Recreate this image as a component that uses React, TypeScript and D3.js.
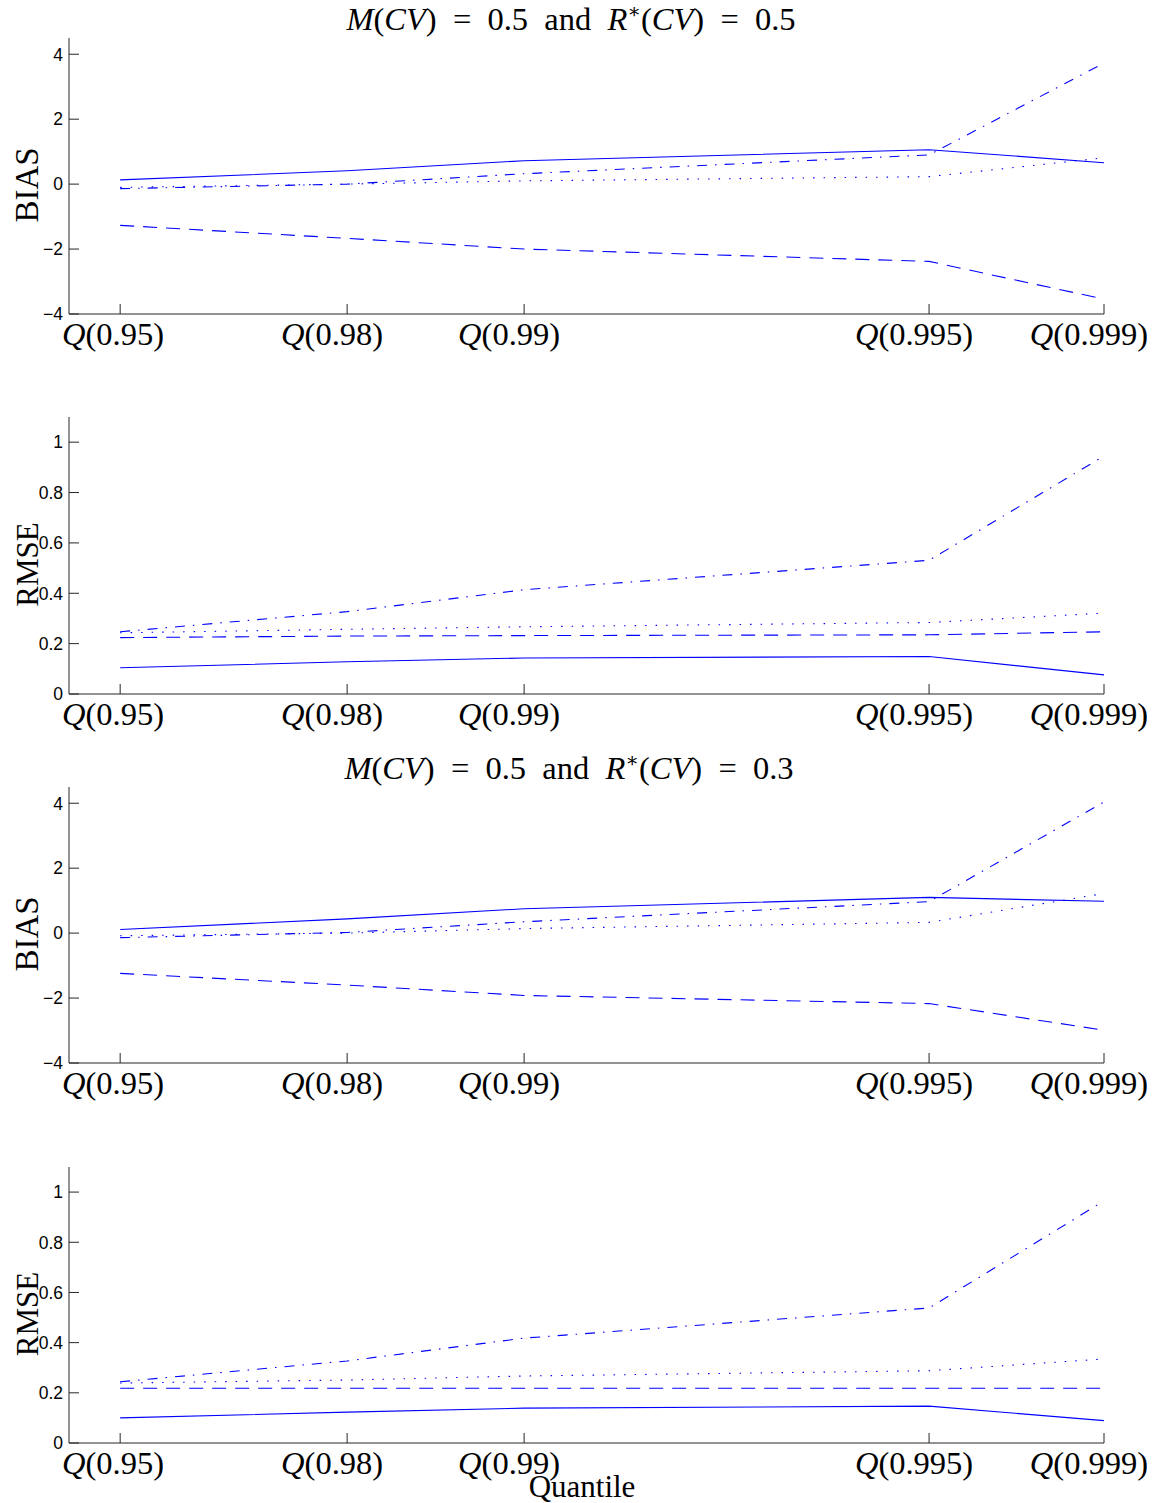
import React from "react";
import * as d3 from "d3";

// ---- data ----
const quantileLabels = ["0.95", "0.98", "0.99", "0.995", "0.999"];
const quantilePos = [0, 0.2307, 0.4106, 0.8222, 1];
const xDomain = [-0.052, 1];

const bias1Solid = [0.13, 0.41, 0.72, 1.06, 0.66];
const bias1Dashed = [-1.27, -1.67, -2.0, -2.38, -3.54];
const bias1Dotted = [-0.1, 0.0, 0.1, 0.23, 0.81];
const bias1DashDot = [-0.14, 0.0, 0.32, 0.9, 3.73];

const rmse1Solid = [0.104, 0.128, 0.143, 0.149, 0.076];
const rmse1Dashed = [0.224, 0.23, 0.232, 0.235, 0.247];
const rmse1Dotted = [0.243, 0.257, 0.267, 0.284, 0.321];
const rmse1DashDot = [0.247, 0.327, 0.414, 0.531, 0.945];

const bias2Solid = [0.11, 0.44, 0.75, 1.1, 0.98];
const bias2Dashed = [-1.24, -1.6, -1.92, -2.17, -2.99];
const bias2Dotted = [-0.08, 0.0, 0.14, 0.33, 1.22];
const bias2DashDot = [-0.14, 0.02, 0.35, 0.97, 4.04];

const rmse2Solid = [0.1, 0.123, 0.139, 0.147, 0.089];
const rmse2Dashed = [0.218, 0.218, 0.218, 0.218, 0.218];
const rmse2Dotted = [0.239, 0.251, 0.267, 0.288, 0.335];
const rmse2DashDot = [0.244, 0.327, 0.418, 0.538, 0.965];

const biasTicks = [-4, -2, 0, 2, 4];
const rmseTicks = [0, 0.2, 0.4, 0.6, 0.8, 1];
const biasDomain = [-4, 4.5];
const rmseDomain = [0, 1.1];

const styles = {
  solid: "none",
  dashed: "14,9",
  dotted: "1.5,9",
  dashdot: "10,8,1.5,8",
};

const SERIF = "'Liberation Serif', 'DejaVu Serif', serif";
const SANS = "'Liberation Sans', Arial, sans-serif";
const BLUE = "#0000ff";
const AXIS = "#262626";

const LEFT = 69;
const RIGHT = 1104;

type PanelProps = {
  top: number;
  bottom: number;
  domain: number[];
  ticks: number[];
  label: string;
  series: { values: number[]; style: string }[];
  tickFmt: (v: number) => string;
};

const EN = "\u2002";

function Title({ x, y, r }: { x: number; y: number; r: string }) {
  return (
    <text x={x} y={y} textAnchor="middle" fontFamily={SERIF} fontSize={32.5} fill="#000">
      <tspan fontStyle="italic">M</tspan>
      <tspan>(</tspan>
      <tspan fontStyle="italic">CV</tspan>
      <tspan>{")" + EN + "=" + EN + "0.5" + EN + "and" + EN}</tspan>
      <tspan fontStyle="italic">R</tspan>
      <tspan fontSize={20} dy={-12}>∗</tspan>
      <tspan dy={12}>(</tspan>
      <tspan fontStyle="italic">CV</tspan>
      <tspan>{")" + EN + "=" + EN + r}</tspan>
    </text>
  );
}

function Panel({ top, bottom, domain, ticks, label, series, tickFmt }: PanelProps) {
  const x = d3.scaleLinear().domain(xDomain).range([LEFT, RIGHT]);
  const y = d3.scaleLinear().domain(domain).range([bottom, top]);
  const line = d3
    .line<number>()
    .x((_, i) => x(quantilePos[i]))
    .y((d) => y(d));
  return (
    <g>
      {series.map((s, i) => (
        <path
          key={i}
          d={line(s.values) || ""}
          fill="none"
          stroke={BLUE}
          strokeWidth={1.1}
          strokeDasharray={(styles as any)[s.style]}
        />
      ))}
      <line x1={LEFT} x2={LEFT} y1={top} y2={bottom} stroke={AXIS} strokeWidth={1} />
      <line x1={LEFT} x2={RIGHT} y1={bottom} y2={bottom} stroke={AXIS} strokeWidth={1} />
      {ticks.map((t) => (
        <g key={t}>
          <line x1={LEFT} x2={LEFT + 10} y1={y(t)} y2={y(t)} stroke={AXIS} />
          <text
            x={LEFT - 6}
            y={y(t)}
            dy="0.36em"
            textAnchor="end"
            fontFamily={SANS}
            fontSize={17.5}
            fill="#000"
          >
            {tickFmt(t)}
          </text>
        </g>
      ))}
      {quantileLabels.map((q, i) => (
        <g key={q}>
          <line
            x1={x(quantilePos[i])}
            x2={x(quantilePos[i])}
            y1={bottom}
            y2={bottom - 10}
            stroke={AXIS}
          />
          <text
            x={Math.max(x(quantilePos[i]) - 15, 113)}
            y={bottom + 31}
            textAnchor="middle"
            fontFamily={SERIF}
            fontSize={32.5}
            fill="#000"
          >
            <tspan fontStyle="italic">Q</tspan>
            <tspan>{"(" + q + ")"}</tspan>
          </text>
        </g>
      ))}
      <text
        transform={`translate(38,${(top + bottom) / 2 + 9}) rotate(-90)`}
        textAnchor="middle"
        fontFamily={SERIF}
        fontSize={label === "BIAS" ? 33 : 31}
        fill="#000"
      >
        {label}
      </text>
    </g>
  );
}

const fmtBias = (v: number) => (v < 0 ? "\u2212" + Math.abs(v) : String(v));
const fmtRmse = (v: number) => String(v);

export default function App() {
  const panels = [
    {
      top: 38, bottom: 314, domain: biasDomain, ticks: biasTicks, label: "BIAS", fmt: fmtBias,
      series: [
        { values: bias1Solid, style: "solid" },
        { values: bias1Dashed, style: "dashed" },
        { values: bias1Dotted, style: "dotted" },
        { values: bias1DashDot, style: "dashdot" },
      ],
    },
    {
      top: 417, bottom: 694, domain: rmseDomain, ticks: rmseTicks, label: "RMSE", fmt: fmtRmse,
      series: [
        { values: rmse1Solid, style: "solid" },
        { values: rmse1Dashed, style: "dashed" },
        { values: rmse1Dotted, style: "dotted" },
        { values: rmse1DashDot, style: "dashdot" },
      ],
    },
    {
      top: 787, bottom: 1063, domain: biasDomain, ticks: biasTicks, label: "BIAS", fmt: fmtBias,
      series: [
        { values: bias2Solid, style: "solid" },
        { values: bias2Dashed, style: "dashed" },
        { values: bias2Dotted, style: "dotted" },
        { values: bias2DashDot, style: "dashdot" },
      ],
    },
    {
      top: 1167, bottom: 1443, domain: rmseDomain, ticks: rmseTicks, label: "RMSE", fmt: fmtRmse,
      series: [
        { values: rmse2Solid, style: "solid" },
        { values: rmse2Dashed, style: "dashed" },
        { values: rmse2Dotted, style: "dotted" },
        { values: rmse2DashDot, style: "dashdot" },
      ],
    },
  ];
  return (
    <svg
      width={1162}
      height={1503}
      style={{ position: "absolute", left: 0, top: 0, background: "#fff" }}
    >
      <rect width={1162} height={1503} fill="#fff" />
      <Title x={571} y={30} r="0.5" />
      <Title x={569} y={779} r="0.3" />
      {panels.map((p, i) => (
        <Panel
          key={i}
          top={p.top}
          bottom={p.bottom}
          domain={p.domain}
          ticks={p.ticks}
          label={p.label}
          series={p.series}
          tickFmt={p.fmt}
        />
      ))}
      <text x={582} y={1497} textAnchor="middle" fontFamily={SERIF} fontSize={31} fill="#000">
        Quantile
      </text>
    </svg>
  );
}
